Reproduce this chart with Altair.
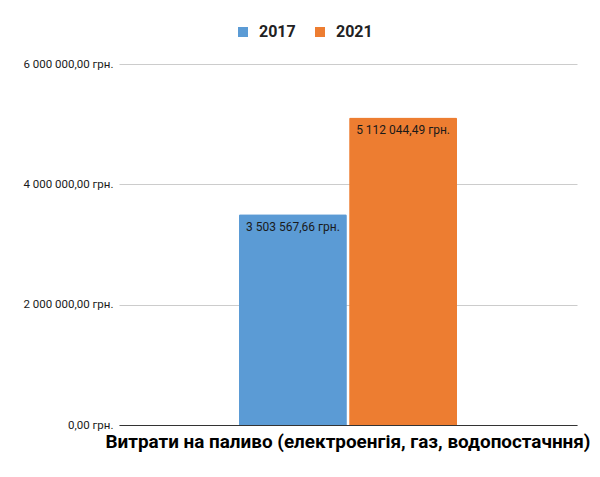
import altair as alt
import pandas as pd

categories = ["Витрати на паливо (електроенгія, газ, водопостачння)"]
years = ["2017", "2021"]
values = [3503567.66, 5112044.49]
colors = ["#5B9BD5", "#ED7D31"]
y_ticks = [0, 2000000, 4000000, 6000000]

df = pd.DataFrame({
    "category": [categories[0]] * len(years),
    "year": years,
    "value": values,
})

base = alt.Chart(df).encode(
    x=alt.X("category:N", title=None,
            scale=alt.Scale(paddingInner=0, paddingOuter=0.55),
            axis=alt.Axis(labelAngle=0, labelFontSize=18.9, labelFontWeight="bold",
                          labelColor="#000000", labelFont="Roboto", labelLimit=1000,
                          labelPadding=7, ticks=False, domainColor="#333333",
                          grid=False)),
    xOffset=alt.XOffset("year:N", scale=alt.Scale(paddingInner=0.02)),
)

bars = base.mark_bar(cornerRadiusTopLeft=1.5, cornerRadiusTopRight=1.5).encode(
    y=alt.Y("value:Q", title=None,
            scale=alt.Scale(domain=[0, 6000000]),
            axis=alt.Axis(values=y_ticks, format="$,.2f", labelFontSize=11.5,
                          labelColor="#1a1a1a", labelFont="Roboto", labelPadding=6,
                          ticks=False, domain=False, gridColor="#cccccc")),
    color=alt.Color("year:N", title=None,
                    scale=alt.Scale(domain=years, range=colors),
                    legend=alt.Legend(orient="none", legendX=116, legendY=-40,
                                      direction="horizontal", symbolType="square",
                                      symbolSize=100, symbolStrokeWidth=0,
                                      labelFontSize=16, labelFontWeight="bold",
                                      labelColor="#222222", labelFont="Roboto",
                                      labelOffset=8, columnPadding=16)),
)

labels = base.mark_text(baseline="top", dy=8, fontSize=12, font="Roboto",
                        color="#1a1a1a").encode(
    y=alt.Y("value:Q"),
    text=alt.Text("value:Q", format="$,.2f"),
)

chart = alt.layer(bars, labels).properties(
    width=458, height=361,
    autosize=alt.AutoSizeParams(type="none"),
    padding={"left": 111, "top": 56, "right": 14, "bottom": 44},
).configure(
    locale={"number": {"decimal": ",", "thousands": " ", "grouping": [3],
                       "currency": ["", " грн."]}}
).configure_view(stroke=None)

chart.save("out.html", embed_options={"renderer": "svg", "actions": False})
